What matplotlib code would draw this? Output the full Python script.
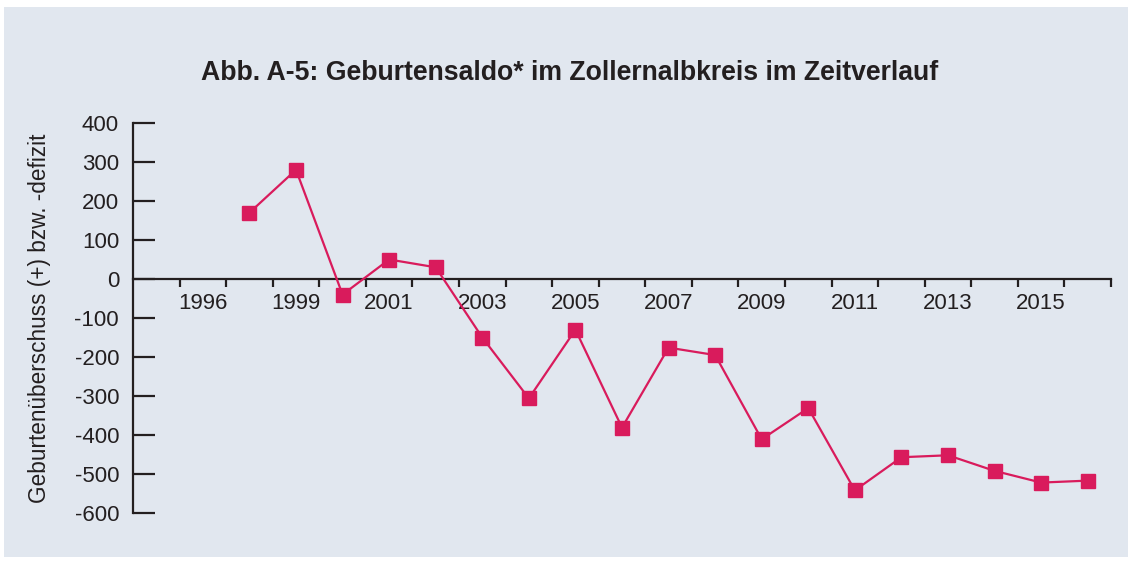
# Geburtensaldo im Zollernalbkreis: line with square markers on a light panel.

import matplotlib.pyplot as plt
from matplotlib.patches import Rectangle
from matplotlib.ticker import FixedLocator, FixedFormatter

# ---- data ----
# 21 category slots; the series starts in slot 2
TICK_LABELS = ["", "1996", "", "1999", "", "2001", "", "2003", "", "2005", "",
               "2007", "", "2009", "", "2011", "", "2013", "", "2015", ""]
SALDO = [170, 280, -40, 50, 30, -150, -306, -130, -381, -176, -195,
         -411, -331, -542, -457, -452, -492, -522, -517]
FIRST_SLOT = 2

# ---- style ----
BG      = "#e1e7ef"
INK     = "#231f20"
MAGENTA = "#d91b5c"
FONT    = ["Liberation Sans", "DejaVu Sans"]

plt.rcParams["font.family"] = FONT
plt.rcParams["axes.unicode_minus"] = False

fig = plt.figure(figsize=(11.32, 5.63), dpi=100)
fig.patch.set_facecolor("white")
# light panel behind everything (thin white margin top/left)
fig.patches.append(Rectangle((4/1132, 6/563), 1124/1132, 550/563,
                             transform=fig.transFigure, facecolor=BG,
                             edgecolor="none", zorder=-10))

ax = fig.add_axes([133/1132, 1 - 513/563, 978/1132, 390/563])
ax.set_facecolor("none")

xs = list(range(FIRST_SLOT, FIRST_SLOT + len(SALDO)))
ax.plot(xs, SALDO, color=MAGENTA, lw=1.6, marker="s", ms=10.5,
        mfc=MAGENTA, mec=MAGENTA, clip_on=False, zorder=3)

ax.set_xlim(-0.5, len(TICK_LABELS) - 0.5)
ax.set_ylim(-600, 400)

# spines: left axis + x axis sitting on zero
for sp in ["top", "right"]:
    ax.spines[sp].set_visible(False)
ax.spines["bottom"].set_position(("data", 0))
for sp in ["left", "bottom"]:
    ax.spines[sp].set_linewidth(1.6)
    ax.spines[sp].set_color(INK)

# y ticks point inward
ax.set_yticks(range(-600, 401, 100))
ax.tick_params(axis="y", direction="in", length=16, width=1.6, color=INK,
               pad=10, labelsize=16, labelcolor=INK)

# x: labels at slot centres, tick marks at slot boundaries
ax.xaxis.set_major_locator(FixedLocator(list(range(len(TICK_LABELS)))))
ax.xaxis.set_major_formatter(FixedFormatter(TICK_LABELS))
ax.xaxis.set_minor_locator(FixedLocator([i + 0.5 for i in range(len(TICK_LABELS))]))
ax.tick_params(axis="x", which="major", length=0, pad=10, labelsize=16, labelcolor=INK)
ax.tick_params(axis="x", which="minor", direction="out", length=6, width=1.6, color=INK)

ax.set_ylabel("Geburtenüberschuss (+) bzw. -defizit", fontsize=16.3, color=INK, labelpad=17)

fig.text(570/1132, 1 - 73/563, "Abb. A-5: Geburtensaldo* im Zollernalbkreis im Zeitverlauf",
         ha="center", va="center", fontsize=19.2, fontweight="bold", color=INK)

fig.savefig("out.png", dpi=100, facecolor=fig.get_facecolor())
